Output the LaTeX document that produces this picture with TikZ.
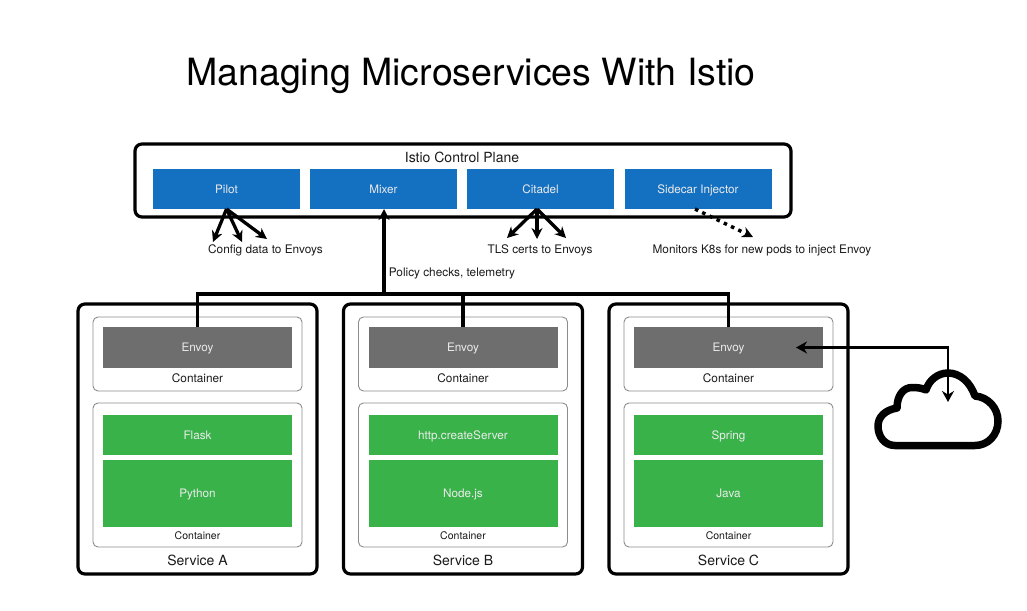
\documentclass[tikz,border=0pt]{standalone}
\usepackage{fontspec}
\setmainfont{TeX Gyre Heros}
\usetikzlibrary{arrows.meta}
\definecolor{bluebox}{HTML}{1470C0}
\definecolor{greybox}{HTML}{6E6E6E}
\definecolor{greenbox}{HTML}{39B24A}
\definecolor{inkc}{HTML}{1A1A1A}
\tikzset{
  every node/.style={inner sep=0pt,outer sep=0pt,text=inkc},
  heavybox/.style={draw=black,line width=3.2pt,rounded corners=7pt,fill=white},
  contbox/.style={draw=black!45,line width=0.9pt,rounded corners=5pt,fill=white},
  compbox/.style={minimum width=#1,text=white!92!black,font=\fontsize{11.7}{13}\selectfont,text height=8.5pt,text depth=0pt},
  compbox/.default=189pt,
  lbl/.style={font=\fontsize{11.8}{13}\selectfont,text height=8.5pt,text depth=0.5pt},
  headlbl/.style={font=\fontsize{14}{16}\selectfont,text height=10pt,text depth=0pt},
  smalllbl/.style={font=\fontsize{10.5}{12}\selectfont,text height=7.5pt,text depth=0.5pt},
  svclbl/.style={font=\fontsize{14}{16}\selectfont,text height=10pt,text depth=0pt},
  conn/.style={draw=black,line width=3.3pt},
  fan/.style={conn,-{Stealth[length=11pt,width=11pt]}},
  thinconn/.style={draw=black,line width=2.8pt}
}
\begin{document}
\begin{tikzpicture}[x=1pt,y=-1pt]
\useasboundingbox (0,0) rectangle (1027,610);
\node[font=\fontsize{37.5}{44}\selectfont,text=black,text height=27pt,text depth=0pt] (title) at (471,72.3) {Managing Microservices With Istio};

% control plane
\node[heavybox,minimum width=656pt,minimum height=73pt] (plane) at (463,180.5) {};
\node[headlbl] (planelbl) at (462,157.5) {Istio Control Plane};
\node[compbox=147pt,fill=bluebox,minimum height=40pt] (pilot) at (226.5,189) {Pilot};
\node[compbox=147pt,fill=bluebox,minimum height=40pt] (mixer) at (383.5,189) {Mixer};
\node[compbox=147pt,fill=bluebox,minimum height=40pt] (citadel) at (540.5,189) {Citadel};
\node[compbox=147pt,fill=bluebox,minimum height=40pt] (sidecar) at (698,189) {Sidecar Injector};

% services
\foreach \nm/\dx/\one/\two in {A/0/Flask/Python,B/265.5/http.createServer/Node.js,C/531/Spring/Java}{
  \begin{scope}[xshift=\dx pt]
    \node[heavybox,minimum width=239pt,minimum height=270pt] (svc\nm) at (197.5,439) {};
    \node[contbox,minimum width=209pt,minimum height=74pt] (ctop\nm) at (197.5,354) {};
    \node[contbox,minimum width=209pt,minimum height=144pt] (cbot\nm) at (197.5,475) {};
    \node[compbox,fill=greybox,minimum height=41pt] (envoy\nm) at (197.5,347.5) {Envoy};
    \node[lbl] (ctoplbl\nm) at (197.5,378.5) {Container};
    \node[compbox,fill=greenbox,minimum height=40pt] (one\nm) at (197.5,435) {\one};
    \node[compbox,fill=greenbox,minimum height=67pt] (two\nm) at (197.5,493.5) {\two};
    \node[smalllbl] (cbotlbl\nm) at (197.5,535.5) {Container};
    \node[svclbl] (svclbl\nm) at (197.5,560.5) {Service \nm};
  \end{scope}
}

% labels
\node[lbl] (cfg) at (265.5,249) {Config data to Envoys};
\node[lbl] (tls) at (540,249) {TLS certs to Envoys};
\node[lbl] (mon) at (762,249) {Monitors K8s for new pods to inject Envoy};
\node[lbl] (pol) at (452,272) {Policy checks, telemetry};

% pilot / citadel fans
\coordinate (p1) at (213,242); \coordinate (p2) at (242,242); \coordinate (p3) at (267,239);
\coordinate (c1) at (507,238); \coordinate (c2) at (537,239); \coordinate (c3) at (566,238);
\draw[fan] (pilot.south) -- (p1);
\draw[fan] (pilot.south) -- (p2);
\draw[fan] (pilot.south) -- (p3);
\draw[fan] ([xshift=-3.5pt]citadel.south) -- (c1);
\draw[fan] ([xshift=-3.5pt]citadel.south) -- (c2);
\draw[fan] ([xshift=-3.5pt]citadel.south) -- (c3);
\coordinate (d1) at (753,237);
\draw[draw=black,line width=3.5pt,dash pattern=on 3.5pt off 4.5pt,-{Stealth[length=11pt,width=11pt]}] ([xshift=-3pt]sidecar.south) -- (d1);

% bus
\coordinate (busm) at (384,294);
\draw[conn] (envoyA.north) |- (busm);
\draw[conn] (envoyB.north) -- (envoyB.north |- busm);
\draw[conn] (envoyC.north) |- (busm);
\draw[fan] (busm) -- (busm |- mixer.south);

% cloud
\draw[black,line width=7.5pt,line join=round,fill=white]
  (895,445.5) -- (975,445.5)
  .. controls (988,445.5) and (998,435) .. (998,421)
  .. controls (998,408) and (988,397) .. (975,396)
  .. controls (970,382) and (960,373) .. (948,373)
  .. controls (938,373) and (929,380) .. (926,390)
  .. controls (922,388) and (917,387.5) .. (912,387.5)
  .. controls (903,387.5) and (897,396) .. (897,408)
  .. controls (885,410) and (878,417) .. (878,426)
  .. controls (878,437) and (885,445.5) .. (895,445.5) -- cycle;
\coordinate (cloudin) at (948,402);
\coordinate (envoyin) at (796,347.5);
\draw[thinconn,{Stealth[length=11pt,width=12pt]}-{Stealth[length=11pt,width=12pt]}] (envoyin) -| (cloudin);
\end{tikzpicture}
\end{document}
